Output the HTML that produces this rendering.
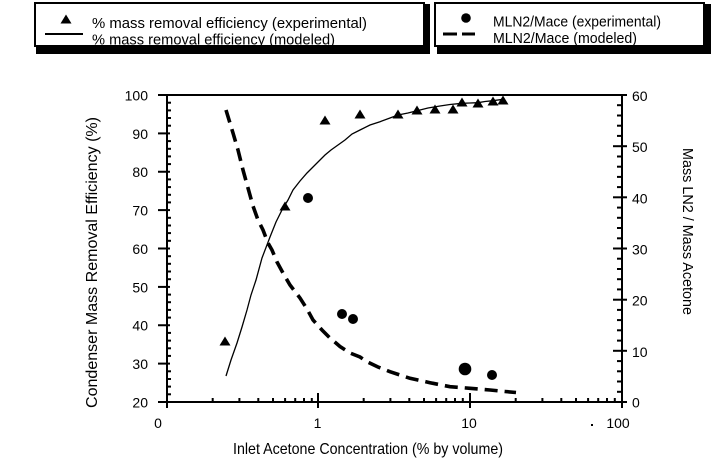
<!DOCTYPE html>
<html><head><meta charset="utf-8"><style>
html,body{margin:0;padding:0;background:#fff;}
svg{display:block;}
text{font-family:"Liberation Sans",Arial,sans-serif;fill:#000;}
</style></head><body>
<svg width="718" height="460" viewBox="0 0 718 460" xmlns="http://www.w3.org/2000/svg">
<!-- Legend box 1 -->
<rect x="36" y="4" width="394" height="50" fill="#000"/>
<rect x="35" y="3" width="389" height="43" fill="#fff" stroke="#000" stroke-width="2"/>
<polygon points="60.5,23.5 71.5,23.5 66,14.5" fill="#000"/>
<line x1="45" y1="34" x2="83" y2="34" stroke="#000" stroke-width="2"/>
<text x="92" y="28" font-size="15" textLength="275" lengthAdjust="spacingAndGlyphs">% mass removal efficiency (experimental)</text>
<text x="92" y="44.5" font-size="15" textLength="243" lengthAdjust="spacingAndGlyphs">% mass removal efficiency (modeled)</text>
<!-- Legend box 2 -->
<rect x="437" y="4" width="274" height="50" fill="#000"/>
<rect x="435" y="3" width="269" height="43" fill="#fff" stroke="#000" stroke-width="2"/>
<circle cx="466" cy="18" r="4.8" fill="#000"/>
<line x1="443" y1="34" x2="457" y2="34" stroke="#000" stroke-width="3"/>
<line x1="462" y1="34" x2="475" y2="34" stroke="#000" stroke-width="3"/>
<text x="493" y="26.5" font-size="15" textLength="168" lengthAdjust="spacingAndGlyphs">MLN2/Mace (experimental)</text>
<text x="493" y="43" font-size="15" textLength="144" lengthAdjust="spacingAndGlyphs">MLN2/Mace (modeled)</text>

<!-- Axes -->
<g stroke="#000" stroke-width="2" fill="none">
<line x1="158" y1="95" x2="627" y2="95"/>
<line x1="158" y1="402" x2="627" y2="402"/>
<line x1="167" y1="94" x2="167" y2="408"/>
<line x1="622" y1="94" x2="622" y2="408"/>
<!-- left major ticks -->
<line x1="158" y1="133.4" x2="170" y2="133.4"/>
<line x1="158" y1="171.75" x2="170" y2="171.75"/>
<line x1="158" y1="210.1" x2="170" y2="210.1"/>
<line x1="158" y1="248.5" x2="170" y2="248.5"/>
<line x1="158" y1="286.9" x2="170" y2="286.9"/>
<line x1="158" y1="325.25" x2="170" y2="325.25"/>
<line x1="158" y1="363.6" x2="170" y2="363.6"/>
<!-- right major ticks -->
<line x1="613" y1="146.2" x2="627" y2="146.2"/>
<line x1="613" y1="197.3" x2="627" y2="197.3"/>
<line x1="613" y1="248.5" x2="627" y2="248.5"/>
<line x1="613" y1="299.7" x2="627" y2="299.7"/>
<line x1="613" y1="350.8" x2="627" y2="350.8"/>
<!-- bottom major ticks -->
<line x1="318" y1="393" x2="318" y2="408"/>
<line x1="470" y1="393" x2="470" y2="408"/>
</g>
<g stroke="#000" stroke-width="2">
<!-- left minor ticks -->
<line x1="167" y1="102.7" x2="171" y2="102.7"/><line x1="167" y1="110.4" x2="171" y2="110.4"/><line x1="167" y1="118" x2="171" y2="118"/><line x1="167" y1="125.7" x2="171" y2="125.7"/>
<line x1="167" y1="141.1" x2="171" y2="141.1"/><line x1="167" y1="148.8" x2="171" y2="148.8"/><line x1="167" y1="156.4" x2="171" y2="156.4"/><line x1="167" y1="164.1" x2="171" y2="164.1"/>
<line x1="167" y1="179.4" x2="171" y2="179.4"/><line x1="167" y1="187.1" x2="171" y2="187.1"/><line x1="167" y1="194.8" x2="171" y2="194.8"/><line x1="167" y1="202.4" x2="171" y2="202.4"/>
<line x1="167" y1="217.8" x2="171" y2="217.8"/><line x1="167" y1="225.5" x2="171" y2="225.5"/><line x1="167" y1="233.1" x2="171" y2="233.1"/><line x1="167" y1="240.8" x2="171" y2="240.8"/>
<line x1="167" y1="256.2" x2="171" y2="256.2"/><line x1="167" y1="263.8" x2="171" y2="263.8"/><line x1="167" y1="271.5" x2="171" y2="271.5"/><line x1="167" y1="279.2" x2="171" y2="279.2"/>
<line x1="167" y1="294.6" x2="171" y2="294.6"/><line x1="167" y1="302.2" x2="171" y2="302.2"/><line x1="167" y1="309.9" x2="171" y2="309.9"/><line x1="167" y1="317.6" x2="171" y2="317.6"/>
<line x1="167" y1="332.9" x2="171" y2="332.9"/><line x1="167" y1="340.6" x2="171" y2="340.6"/><line x1="167" y1="348.3" x2="171" y2="348.3"/><line x1="167" y1="355.9" x2="171" y2="355.9"/>
<line x1="167" y1="371.3" x2="171" y2="371.3"/><line x1="167" y1="379" x2="171" y2="379"/><line x1="167" y1="386.6" x2="171" y2="386.6"/><line x1="167" y1="394.3" x2="171" y2="394.3"/>
<!-- right minor ticks -->
<line x1="617" y1="105.2" x2="622" y2="105.2"/><line x1="617" y1="115.5" x2="622" y2="115.5"/><line x1="617" y1="125.7" x2="622" y2="125.7"/><line x1="617" y1="135.9" x2="622" y2="135.9"/>
<line x1="617" y1="156.5" x2="622" y2="156.5"/><line x1="617" y1="166.7" x2="622" y2="166.7"/><line x1="617" y1="176.9" x2="622" y2="176.9"/><line x1="617" y1="187.1" x2="622" y2="187.1"/>
<line x1="617" y1="207.6" x2="622" y2="207.6"/><line x1="617" y1="217.8" x2="622" y2="217.8"/><line x1="617" y1="228" x2="622" y2="228"/><line x1="617" y1="238.3" x2="622" y2="238.3"/>
<line x1="617" y1="258.7" x2="622" y2="258.7"/><line x1="617" y1="269" x2="622" y2="269"/><line x1="617" y1="279.2" x2="622" y2="279.2"/><line x1="617" y1="289.4" x2="622" y2="289.4"/>
<line x1="617" y1="309.9" x2="622" y2="309.9"/><line x1="617" y1="320.1" x2="622" y2="320.1"/><line x1="617" y1="330.3" x2="622" y2="330.3"/><line x1="617" y1="340.6" x2="622" y2="340.6"/>
<line x1="617" y1="361.1" x2="622" y2="361.1"/><line x1="617" y1="371.3" x2="622" y2="371.3"/><line x1="617" y1="381.5" x2="622" y2="381.5"/><line x1="617" y1="391.8" x2="622" y2="391.8"/>
<!-- bottom minor ticks -->
<line x1="212.7" y1="398" x2="212.7" y2="402"/><line x1="239.4" y1="398" x2="239.4" y2="402"/><line x1="258.3" y1="398" x2="258.3" y2="402"/><line x1="273" y1="398" x2="273" y2="402"/><line x1="285.1" y1="398" x2="285.1" y2="402"/><line x1="295.2" y1="398" x2="295.2" y2="402"/><line x1="304" y1="398" x2="304" y2="402"/><line x1="311.8" y1="398" x2="311.8" y2="402"/>
<line x1="363.7" y1="398" x2="363.7" y2="402"/><line x1="390.4" y1="398" x2="390.4" y2="402"/><line x1="409.3" y1="398" x2="409.3" y2="402"/><line x1="424" y1="398" x2="424" y2="402"/><line x1="436.1" y1="398" x2="436.1" y2="402"/><line x1="446.2" y1="398" x2="446.2" y2="402"/><line x1="455" y1="398" x2="455" y2="402"/><line x1="462.8" y1="398" x2="462.8" y2="402"/>
<line x1="515.7" y1="398" x2="515.7" y2="402"/><line x1="542.4" y1="398" x2="542.4" y2="402"/><line x1="561.3" y1="398" x2="561.3" y2="402"/><line x1="576" y1="398" x2="576" y2="402"/><line x1="588.1" y1="398" x2="588.1" y2="402"/><line x1="598.2" y1="398" x2="598.2" y2="402"/><line x1="607" y1="398" x2="607" y2="402"/><line x1="614.8" y1="398" x2="614.8" y2="402"/>
</g>

<!-- Tick labels -->
<g font-size="14" text-anchor="end">
<text x="148" y="100.5">100</text>
<text x="148" y="138.9">90</text>
<text x="148" y="177.2">80</text>
<text x="148" y="215.6">70</text>
<text x="148" y="254">60</text>
<text x="148" y="292.4">50</text>
<text x="148" y="330.7">40</text>
<text x="148" y="369.1">30</text>
<text x="148" y="407.5">20</text>
</g>
<g font-size="14">
<text x="632" y="101">60</text>
<text x="632" y="152.2">50</text>
<text x="632" y="203.3">40</text>
<text x="632" y="254.5">30</text>
<text x="632" y="305.7">20</text>
<text x="632" y="356.8">10</text>
<text x="632" y="407.5">0</text>
</g>
<g font-size="14" text-anchor="middle">
<text x="158" y="428">0</text>
<text x="317.5" y="428">1</text>
<text x="469" y="428">10</text>
<text x="618" y="428">100</text>
</g>
<rect x="591" y="424" width="2" height="2" fill="#000"/>

<!-- Axis titles -->
<text x="233" y="454" font-size="16" textLength="270" lengthAdjust="spacingAndGlyphs">Inlet Acetone Concentration (% by volume)</text>
<text transform="translate(97,408) rotate(-90)" font-size="16" textLength="291" lengthAdjust="spacingAndGlyphs">Condenser Mass Removal Efficiency (%)</text>
<text transform="translate(683,148) rotate(90)" font-size="15" textLength="167" lengthAdjust="spacingAndGlyphs">Mass LN2 / Mass Acetone</text>

<!-- Modeled efficiency (solid) -->
<polyline fill="none" stroke="#000" stroke-width="1.3" points="226,376 231,360 237,343 242,327 247,310 251,295 256,280 262,258 270,237 276,222 282,210 288,200 293,190 300,181 307,173 313,167 320,160 325,155 331,150 338,145 345,140 352,134 360,130 370,125 380,121.7 390,118 398,115 408,113 417,110.7 428,108 440,106 450,104.5 462,103.3 470,103 478,102.7 485,101.5 493,100.7 503,99.3"/>

<!-- Modeled MLN2/Mace (dashed) -->
<polyline fill="none" stroke="#000" stroke-width="3.6" stroke-dasharray="13 7" points="226,110 233,133 238,150 243,170 248,188 253,206 258,220 263,230 268,243 272,250 277,262 283,273 290,285 300,298 307,309 313,320 322,330 330,338 340,346.5 350,353 360,357 367,361.7 378,367 390,371.7 400,375 410,378.3 430,382.7 450,386.7 470,388.3 490,390 505,391.5 516,392.5"/>

<!-- Experimental efficiency (triangles) -->
<g fill="#000">
<polygon points="219.5,345.5 230.5,345.5 225,336.5"/>
<polygon points="279.5,210.5 290.5,210.5 285,201.5"/>
<polygon points="319.5,124.5 330.5,124.5 325,115.5"/>
<polygon points="354.5,118.5 365.5,118.5 360,109.5"/>
<polygon points="392.5,118.5 403.5,118.5 398,109.5"/>
<polygon points="411.5,114.5 422.5,114.5 417,105.5"/>
<polygon points="429.5,113.5 440.5,113.5 435,104.5"/>
<polygon points="447.5,113.5 458.5,113.5 453,104.5"/>
<polygon points="456.5,106.5 467.5,106.5 462,97.5"/>
<polygon points="472.5,107.5 483.5,107.5 478,98.5"/>
<polygon points="487.5,105.5 498.5,105.5 493,96.5"/>
<polygon points="497.5,104.5 508.5,104.5 503,95.5"/>
</g>

<!-- Experimental MLN2/Mace (circles) -->
<g fill="#000">
<circle cx="308" cy="198" r="5"/>
<circle cx="342" cy="314" r="5"/>
<circle cx="353" cy="319" r="5"/>
<circle cx="465" cy="369" r="6.3"/>
<circle cx="492" cy="375" r="5"/>
</g>
</svg>
</body></html>
